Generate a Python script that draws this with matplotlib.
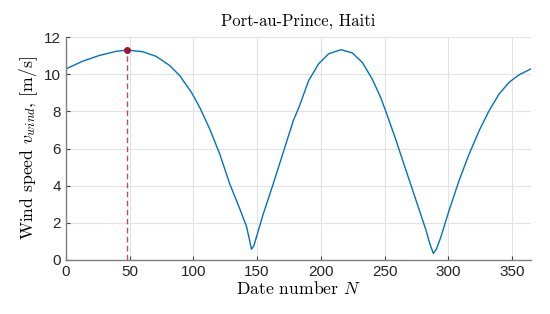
import matplotlib
matplotlib.use('Agg')
import matplotlib.pyplot as plt

# values
day_number = [0, 13.1, 26.2, 39.3, 48, 60.3, 70.8, 81.3, 89.2, 98.4, 104.9, 112.8, 120.7,
              128.5, 136.4, 141.7, 143.8, 145.6, 147.4, 149.5, 154.8, 162.6, 170.5, 178.4,
              183.0, 190.5, 198.3, 206.2, 215.9, 224.6, 232.4, 240.3, 246.9, 251.3, 258.7,
              266.5, 274.4, 282.3, 285.7, 288.3, 290.7, 294.1, 300.6, 308.5, 316.4, 324.3,
              332.1, 340, 347.9, 355.7, 365]
wind_speed = [10.29, 10.7, 11.01, 11.23, 11.3, 11.21, 10.96, 10.47, 9.93, 9.03, 8.22, 7.05,
              5.7, 4.1, 2.75, 1.8, 1.15, 0.58, 0.76, 1.24, 2.47, 4.09, 5.79, 7.5,
              8.25, 9.66, 10.56, 11.1, 11.32, 11.15, 10.65, 9.75, 8.76, 7.95, 6.51,
              4.9, 3.28, 1.66, 0.85, 0.35, 0.58, 1.21, 2.65, 4.27, 5.7, 6.96,
              8.04, 8.94, 9.57, 9.97, 10.29]
peak_day = 48
peak_speed = 11.32

x_ticks = [0, 50, 100, 150, 200, 250, 300, 350]
y_ticks = [0, 2, 4, 6, 8, 10, 12]

plt.rcParams['mathtext.fontset'] = 'cm'

fig = plt.figure(figsize=(5.5, 3.14), dpi=100)
ax = fig.add_axes([0.12, 0.172, 0.8455, 0.71])

ax.plot(day_number, wind_speed, color='#0072BD', linewidth=1.0)
ax.plot([peak_day, peak_day], [0, peak_speed], color='#A2142F', linestyle=(0, (4, 2.5)),
        linewidth=1.0, alpha=0.75)
ax.plot(peak_day, peak_speed, 'o', color='#A2142F', markersize=4)

ax.set_xlim(0, 365)
ax.set_ylim(0, 12)
ax.set_xticks(x_ticks)
ax.set_yticks(y_ticks)

ax.grid(True, color='#e3e3e3', linewidth=0.8)
ax.set_axisbelow(True)
for side in ['top', 'right']:
    ax.spines[side].set_visible(False)
for side in ['left', 'bottom']:
    ax.spines[side].set_color('#808080')
    ax.spines[side].set_linewidth(1.0)
ax.tick_params(direction='in', length=3, color='#404040', labelcolor='#262626',
               labelsize=11)
for lab in ax.get_xticklabels() + ax.get_yticklabels():
    lab.set_family('Liberation Sans')

ax.set_title('Port-au-Prince, Haiti', family='cmr10', fontsize=12, pad=8)
ax.set_xlabel('Date number $N$', family='cmr10', fontsize=12.7, labelpad=1)
ax.set_ylabel('Wind speed $v_{wind}$, [m/s]', family='cmr10', fontsize=12.7, labelpad=3)

fig.savefig('out.png', dpi=100)
